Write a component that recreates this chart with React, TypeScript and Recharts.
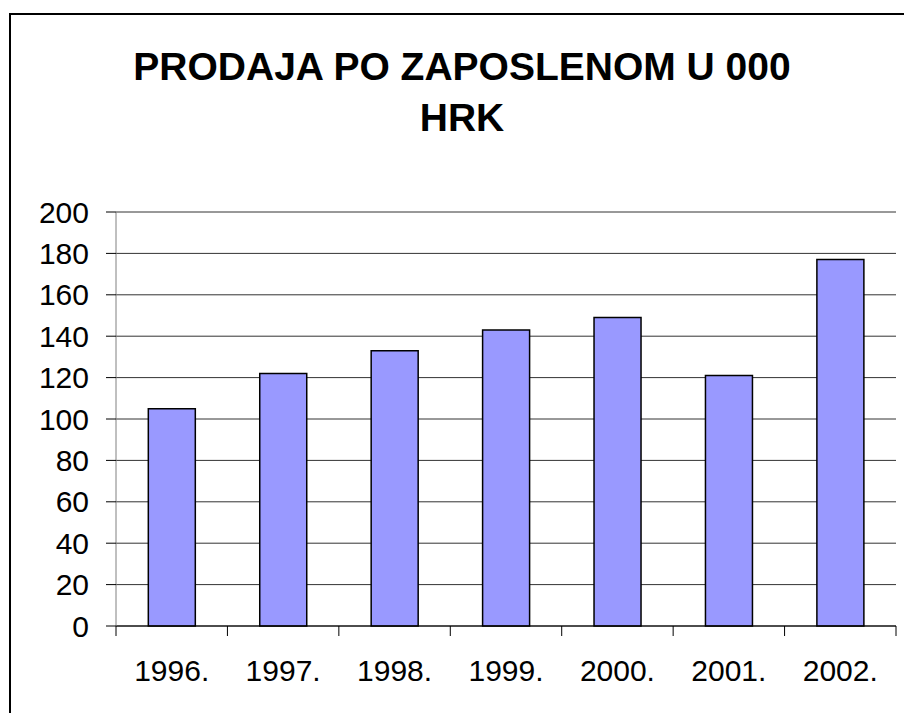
import { BarChart, Bar, XAxis, YAxis, CartesianGrid } from 'recharts';

const years = ['1996.', '1997.', '1998.', '1999.', '2000.', '2001.', '2002.'];
const sales = [105, 122, 133, 143, 149, 121, 177];
const yTicks = [0, 20, 40, 60, 80, 100, 120, 140, 160, 180, 200];

const data = years.map((year, i) => ({ year, sales: sales[i] }));

const W = 904;
const H = 713;
const margin = { top: 212, right: 8, bottom: 47, left: 0 };
const yAxisWidth = 116;
const plotWidth = W - margin.left - margin.right - yAxisWidth;
const band = plotWidth / years.length;

const font = 'Arial, "Liberation Sans", sans-serif';

// year label plus the tick mark on the left edge of its band (and right edge for the last one)
const YearTick = ({ x, y, payload, index }: any) => {
  const left = x - band / 2;
  const right = x + band / 2;
  return (
    <g>
      <line x1={left} y1={y - 8} x2={left} y2={y + 2} stroke="#000" strokeWidth={1} />
      {index === years.length - 1 && (
        <line x1={right} y1={y - 8} x2={right} y2={y + 2} stroke="#000" strokeWidth={1} />
      )}
      <text x={x} y={y + 47} textAnchor="middle" fill="#000" fontSize={30} fontFamily={font}>
        {payload.value}
      </text>
    </g>
  );
};

export default function App() {
  return (
    <div style={{ position: 'fixed', left: 0, top: 0, width: W, height: H, background: '#fff', overflow: 'hidden' }}>
      <div
        style={{
          position: 'absolute',
          left: 9,
          top: 13,
          width: W + 20,
          height: H + 20,
          border: '2px solid #000',
          boxSizing: 'border-box',
        }}
      />
      <div
        style={{
          position: 'absolute',
          left: 0,
          width: 924,
          top: 41,
          textAlign: 'center',
          fontFamily: font,
          fontWeight: 'bold',
          fontSize: 39,
          lineHeight: '51px',
          color: '#000',
          whiteSpace: 'nowrap',
        }}
      >
        PRODAJA PO ZAPOSLENOM U 000
        <br />
        HRK
      </div>
      <BarChart width={W} height={H} data={data} margin={margin} barCategoryGap="29%">
        <CartesianGrid vertical={false} stroke="#333" strokeWidth={1} />
        <XAxis
          dataKey="year"
          axisLine={{ stroke: '#000' }}
          tickLine={false}
          tick={<YearTick />}
          interval={0}
          height={40}
        />
        <YAxis
          width={yAxisWidth}
          domain={[0, 200]}
          ticks={yTicks}
          interval={0}
          axisLine={{ stroke: '#808080' }}
          tickLine={{ stroke: '#000' }}
          tickSize={10}
          tickMargin={17}
          tick={{ fill: '#000', fontSize: 30, fontFamily: font }}
        />
        <Bar dataKey="sales" fill="#9999FF" stroke="#000" strokeWidth={1.5} isAnimationActive={false} />
      </BarChart>
    </div>
  );
}
